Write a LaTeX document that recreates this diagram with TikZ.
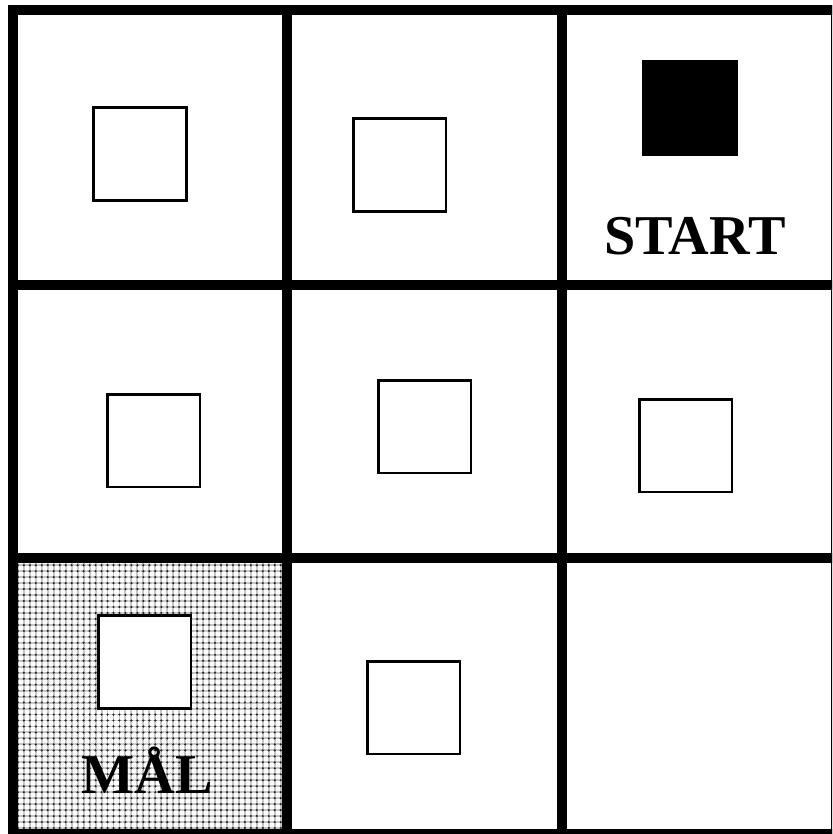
\documentclass[tikz,border=0pt]{standalone}
\usepackage{fontspec}
\setmainfont{Liberation Serif}
\usetikzlibrary{patterns.meta}

\tikzdeclarepattern{
  name=meshlines, type=uncolored,
  bottom left={(-1.7pt,-1.7pt)}, top right={(1.7pt,1.7pt)},
  tile size={(3.4pt,3.4pt)},
  code={\draw[line width=1.1pt] (-1.7pt,0) -- (1.7pt,0) (0,-1.7pt) -- (0,1.7pt);}
}
\tikzdeclarepattern{
  name=meshdots, type=uncolored,
  bottom left={(-1.7pt,-1.7pt)}, top right={(1.7pt,1.7pt)},
  tile size={(3.4pt,3.4pt)},
  code={\fill (0,0) circle[radius=0.7pt];}
}

\tikzset{
  gridline/.style={line width=5.7pt, line cap=rect},
  box/.style={draw, line width=1.7pt, minimum size=1.86cm, inner sep=0pt, fill=white},
  label/.style={font=\fontsize{32}{32}\selectfont\bfseries, anchor=base, inner sep=0pt}
}

\begin{document}
\begin{tikzpicture}[x=0.02cm, y=-0.02cm]
    \useasboundingbox (0,0) rectangle (832,834);
    \clip (0,0) rectangle (832,834);

    % goal cell shading
    \fill[pattern=meshlines, pattern color=gray!45] (13,558) rectangle (287,834);
    \fill[pattern=meshdots, pattern color=black!85] (13,558) rectangle (287,834);

    % board
    \draw[gridline] (13,10) -- (836,10);
    \draw[gridline] (13,285) -- (836,285);
    \draw[gridline] (13,558) -- (836,558);
    \draw[gridline] (13,834) -- (836,834);
    \draw[gridline] (13,10) -- (13,834);
    \draw[gridline] (287,10) -- (287,834);
    \draw[gridline] (562,10) -- (562,834);
    \draw[gridline] (836,10) -- (836,834);

    % top row
    \node[box] (a1) at (140,154) {};
    \node[box] (a2) at (399.5,165) {};
    \node[box, fill=black] (start) at (690,108) {};
    \node[label] (startlabel) at (695,255) {START};

    % middle row
    \node[box] (b1) at (153.5,440.5) {};
    \node[box] (b2) at (424.5,426.5) {};
    \node[box] (b3) at (685.5,445.5) {};

    % bottom row
    \node[box] (goal) at (144.5,662) {};
    \node[label] (goallabel) at (147,793) {MÅL};
    \node[box] (c2) at (413.5,707.5) {};
\end{tikzpicture}
\end{document}
